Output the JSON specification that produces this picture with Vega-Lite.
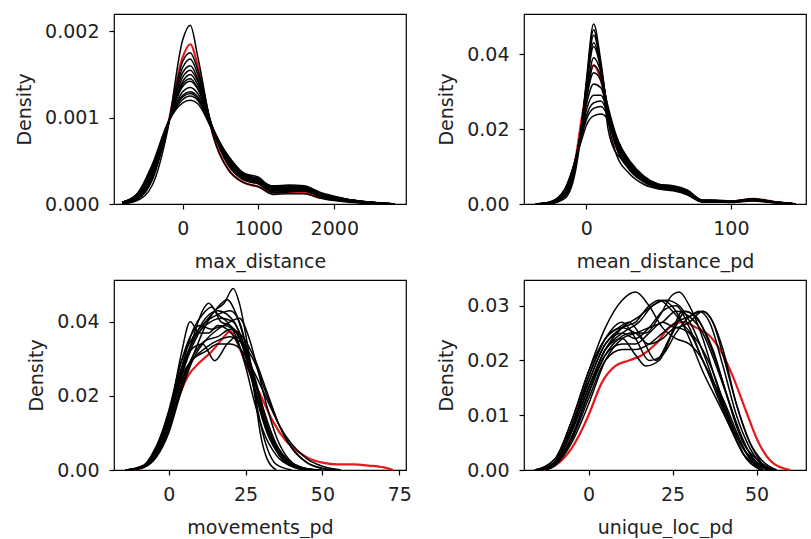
{
"$schema": "https://vega.github.io/schema/vega-lite/v6.json",
"padding": {"left": 15, "top": 13, "right": 0, "bottom": 0},
"background": "white",
"config": {
 "font": "DejaVu Sans",
 "view": {"stroke": "black", "strokeWidth": 1.2},
 "axis": {"domain": false, "grid": false, "tickColor": "black", "tickSize": 5, "tickWidth": 1.2, "labelFontSize": 19, "titleFontSize": 19, "labelColor": "#222", "titleColor": "#222", "titleFontWeight": "normal", "labelPadding": 10, "titlePadding": 10},
 "axisX": {"titlePadding": 14},
 "line": {"interpolate": "monotone", "strokeWidth": 1.5}
},
"datasets": {
"p1": [
{"c":"b1","x":-800,"y":0},{"c":"b1","x":-600,"y":0.00004},{"c":"b1","x":-400,"y":0.00022},{"c":"b1","x":-200,"y":0.00085},{"c":"b1","x":0,"y":0.0019},{"c":"b1","x":100,"y":0.00207},{"c":"b1","x":200,"y":0.0017},{"c":"b1","x":400,"y":0.0008},{"c":"b1","x":600,"y":0.0004},{"c":"b1","x":800,"y":0.00025},{"c":"b1","x":1000,"y":0.0002},{"c":"b1","x":1200,"y":0.00011},{"c":"b1","x":1400,"y":0.00012},{"c":"b1","x":1600,"y":0.00012},{"c":"b1","x":1800,"y":0.00007},{"c":"b1","x":2000,"y":0.00004},{"c":"b1","x":2200,"y":0.00002},{"c":"b1","x":2500,"y":0.00001},{"c":"b1","x":2800,"y":0},
{"c":"b2","x":-800,"y":0},{"c":"b2","x":-600,"y":0.00005},{"c":"b2","x":-400,"y":0.00028},{"c":"b2","x":-200,"y":0.00088},{"c":"b2","x":0,"y":0.00165},{"c":"b2","x":100,"y":0.00175},{"c":"b2","x":200,"y":0.00155},{"c":"b2","x":400,"y":0.00085},{"c":"b2","x":600,"y":0.00045},{"c":"b2","x":800,"y":0.00028},{"c":"b2","x":1000,"y":0.00023},{"c":"b2","x":1200,"y":0.00013},{"c":"b2","x":1400,"y":0.00014},{"c":"b2","x":1600,"y":0.00015},{"c":"b2","x":1800,"y":0.00009},{"c":"b2","x":2000,"y":0.00005},{"c":"b2","x":2200,"y":0.00003},{"c":"b2","x":2500,"y":0.00001},{"c":"b2","x":2800,"y":0},
{"c":"b3","x":-800,"y":0},{"c":"b3","x":-600,"y":0.00007},{"c":"b3","x":-400,"y":0.00032},{"c":"b3","x":-200,"y":0.0009},{"c":"b3","x":0,"y":0.00152},{"c":"b3","x":100,"y":0.0016},{"c":"b3","x":200,"y":0.00145},{"c":"b3","x":400,"y":0.00087},{"c":"b3","x":600,"y":0.00047},{"c":"b3","x":800,"y":0.0003},{"c":"b3","x":1000,"y":0.00025},{"c":"b3","x":1200,"y":0.00015},{"c":"b3","x":1400,"y":0.00016},{"c":"b3","x":1600,"y":0.00016},{"c":"b3","x":1800,"y":0.0001},{"c":"b3","x":2000,"y":0.00006},{"c":"b3","x":2200,"y":0.00003},{"c":"b3","x":2500,"y":0.00001},{"c":"b3","x":2800,"y":0},
{"c":"b4","x":-800,"y":0.00001},{"c":"b4","x":-600,"y":0.00008},{"c":"b4","x":-400,"y":0.00034},{"c":"b4","x":-200,"y":0.0009},{"c":"b4","x":0,"y":0.00147},{"c":"b4","x":100,"y":0.00155},{"c":"b4","x":200,"y":0.00142},{"c":"b4","x":400,"y":0.00086},{"c":"b4","x":600,"y":0.00048},{"c":"b4","x":800,"y":0.00031},{"c":"b4","x":1000,"y":0.00026},{"c":"b4","x":1200,"y":0.00016},{"c":"b4","x":1400,"y":0.00017},{"c":"b4","x":1600,"y":0.00018},{"c":"b4","x":1800,"y":0.00011},{"c":"b4","x":2000,"y":0.00006},{"c":"b4","x":2200,"y":0.00004},{"c":"b4","x":2500,"y":0.00001},{"c":"b4","x":2800,"y":0},
{"c":"b5","x":-800,"y":0.00001},{"c":"b5","x":-600,"y":0.00008},{"c":"b5","x":-400,"y":0.00035},{"c":"b5","x":-200,"y":0.0009},{"c":"b5","x":0,"y":0.00142},{"c":"b5","x":100,"y":0.0015},{"c":"b5","x":200,"y":0.00138},{"c":"b5","x":400,"y":0.00086},{"c":"b5","x":600,"y":0.00049},{"c":"b5","x":800,"y":0.00031},{"c":"b5","x":1000,"y":0.00027},{"c":"b5","x":1200,"y":0.00016},{"c":"b5","x":1400,"y":0.00018},{"c":"b5","x":1600,"y":0.00018},{"c":"b5","x":1800,"y":0.00011},{"c":"b5","x":2000,"y":0.00007},{"c":"b5","x":2200,"y":0.00004},{"c":"b5","x":2500,"y":0.00001},{"c":"b5","x":2800,"y":0},
{"c":"b6","x":-800,"y":0.00001},{"c":"b6","x":-600,"y":0.0001},{"c":"b6","x":-400,"y":0.00038},{"c":"b6","x":-200,"y":0.00092},{"c":"b6","x":0,"y":0.00136},{"c":"b6","x":100,"y":0.00142},{"c":"b6","x":200,"y":0.00133},{"c":"b6","x":400,"y":0.00086},{"c":"b6","x":600,"y":0.0005},{"c":"b6","x":800,"y":0.00032},{"c":"b6","x":1000,"y":0.00027},{"c":"b6","x":1200,"y":0.00018},{"c":"b6","x":1400,"y":0.00018},{"c":"b6","x":1600,"y":0.00017},{"c":"b6","x":1800,"y":0.00011},{"c":"b6","x":2000,"y":0.00007},{"c":"b6","x":2200,"y":0.00004},{"c":"b6","x":2500,"y":0.00001},{"c":"b6","x":2800,"y":0},
{"c":"b7","x":-800,"y":0.00001},{"c":"b7","x":-600,"y":0.0001},{"c":"b7","x":-400,"y":0.0004},{"c":"b7","x":-200,"y":0.00092},{"c":"b7","x":0,"y":0.0013},{"c":"b7","x":100,"y":0.00135},{"c":"b7","x":200,"y":0.00128},{"c":"b7","x":400,"y":0.00085},{"c":"b7","x":600,"y":0.00052},{"c":"b7","x":800,"y":0.00033},{"c":"b7","x":1000,"y":0.00028},{"c":"b7","x":1200,"y":0.00018},{"c":"b7","x":1400,"y":0.00019},{"c":"b7","x":1600,"y":0.00019},{"c":"b7","x":1800,"y":0.00012},{"c":"b7","x":2000,"y":0.00007},{"c":"b7","x":2200,"y":0.00004},{"c":"b7","x":2500,"y":0.00002},{"c":"b7","x":2800,"y":0},
{"c":"b8","x":-800,"y":0.00002},{"c":"b8","x":-600,"y":0.00011},{"c":"b8","x":-400,"y":0.00042},{"c":"b8","x":-200,"y":0.00092},{"c":"b8","x":0,"y":0.00126},{"c":"b8","x":100,"y":0.0013},{"c":"b8","x":200,"y":0.00124},{"c":"b8","x":400,"y":0.00085},{"c":"b8","x":600,"y":0.00053},{"c":"b8","x":800,"y":0.00034},{"c":"b8","x":1000,"y":0.00028},{"c":"b8","x":1200,"y":0.00019},{"c":"b8","x":1400,"y":0.00019},{"c":"b8","x":1600,"y":0.00018},{"c":"b8","x":1800,"y":0.00012},{"c":"b8","x":2000,"y":0.00008},{"c":"b8","x":2200,"y":0.00005},{"c":"b8","x":2500,"y":0.00002},{"c":"b8","x":2800,"y":0},
{"c":"b9","x":-800,"y":0.00002},{"c":"b9","x":-600,"y":0.00012},{"c":"b9","x":-400,"y":0.00044},{"c":"b9","x":-200,"y":0.00092},{"c":"b9","x":0,"y":0.00121},{"c":"b9","x":100,"y":0.00125},{"c":"b9","x":200,"y":0.0012},{"c":"b9","x":400,"y":0.00085},{"c":"b9","x":600,"y":0.00055},{"c":"b9","x":800,"y":0.00035},{"c":"b9","x":1000,"y":0.00029},{"c":"b9","x":1200,"y":0.0002},{"c":"b9","x":1400,"y":0.0002},{"c":"b9","x":1600,"y":0.00019},{"c":"b9","x":1800,"y":0.00012},{"c":"b9","x":2000,"y":0.00008},{"c":"b9","x":2200,"y":0.00005},{"c":"b9","x":2500,"y":0.00002},{"c":"b9","x":2800,"y":0},
{"c":"b10","x":-800,"y":0.00002},{"c":"b10","x":-600,"y":0.00012},{"c":"b10","x":-400,"y":0.00046},{"c":"b10","x":-200,"y":0.00093},{"c":"b10","x":0,"y":0.00117},{"c":"b10","x":100,"y":0.0012},{"c":"b10","x":200,"y":0.00116},{"c":"b10","x":400,"y":0.00084},{"c":"b10","x":600,"y":0.00056},{"c":"b10","x":800,"y":0.00036},{"c":"b10","x":1000,"y":0.00029},{"c":"b10","x":1200,"y":0.0002},{"c":"b10","x":1400,"y":0.00021},{"c":"b10","x":1600,"y":0.0002},{"c":"b10","x":1800,"y":0.00013},{"c":"b10","x":2000,"y":0.00008},{"c":"b10","x":2200,"y":0.00005},{"c":"b10","x":2500,"y":0.00002},{"c":"b10","x":2800,"y":0},
{"c":"b11","x":-800,"y":0},{"c":"b11","x":-600,"y":0.00006},{"c":"b11","x":-400,"y":0.0003},{"c":"b11","x":-200,"y":0.00089},{"c":"b11","x":0,"y":0.00158},{"c":"b11","x":100,"y":0.00168},{"c":"b11","x":200,"y":0.0015},{"c":"b11","x":400,"y":0.00086},{"c":"b11","x":600,"y":0.00046},{"c":"b11","x":800,"y":0.00029},{"c":"b11","x":1000,"y":0.00024},{"c":"b11","x":1200,"y":0.00014},{"c":"b11","x":1400,"y":0.00015},{"c":"b11","x":1600,"y":0.00016},{"c":"b11","x":1800,"y":0.0001},{"c":"b11","x":2000,"y":0.00005},{"c":"b11","x":2200,"y":0.00003},{"c":"b11","x":2500,"y":0.00001},{"c":"b11","x":2800,"y":0},
{"c":"b12","x":-800,"y":0.00001},{"c":"b12","x":-600,"y":0.00009},{"c":"b12","x":-400,"y":0.00036},{"c":"b12","x":-200,"y":0.00091},{"c":"b12","x":0,"y":0.00139},{"c":"b12","x":100,"y":0.00145},{"c":"b12","x":200,"y":0.00134},{"c":"b12","x":400,"y":0.00088},{"c":"b12","x":600,"y":0.00053},{"c":"b12","x":800,"y":0.00036},{"c":"b12","x":1000,"y":0.00031},{"c":"b12","x":1200,"y":0.00017},{"c":"b12","x":1400,"y":0.00016},{"c":"b12","x":1600,"y":0.00015},{"c":"b12","x":1800,"y":0.0001},{"c":"b12","x":2000,"y":0.00006},{"c":"b12","x":2200,"y":0.00003},{"c":"b12","x":2500,"y":0.00001},{"c":"b12","x":2800,"y":0},
{"c":"b13","x":-800,"y":0.00002},{"c":"b13","x":-600,"y":0.0001},{"c":"b13","x":-400,"y":0.00041},{"c":"b13","x":-200,"y":0.00093},{"c":"b13","x":0,"y":0.00124},{"c":"b13","x":100,"y":0.00128},{"c":"b13","x":200,"y":0.00122},{"c":"b13","x":400,"y":0.00087},{"c":"b13","x":600,"y":0.00054},{"c":"b13","x":800,"y":0.00033},{"c":"b13","x":1000,"y":0.00026},{"c":"b13","x":1200,"y":0.00021},{"c":"b13","x":1400,"y":0.00022},{"c":"b13","x":1600,"y":0.00021},{"c":"b13","x":1800,"y":0.00014},{"c":"b13","x":2000,"y":0.00009},{"c":"b13","x":2200,"y":0.00005},{"c":"b13","x":2500,"y":0.00002},{"c":"b13","x":2800,"y":0},
{"c":"red","x":-800,"y":0},{"c":"red","x":-600,"y":0.00006},{"c":"red","x":-400,"y":0.0003},{"c":"red","x":-200,"y":0.0009},{"c":"red","x":0,"y":0.0017},{"c":"red","x":100,"y":0.00185},{"c":"red","x":200,"y":0.0016},{"c":"red","x":400,"y":0.0008},{"c":"red","x":600,"y":0.0004},{"c":"red","x":800,"y":0.00025},{"c":"red","x":1000,"y":0.0002},{"c":"red","x":1200,"y":0.00013},{"c":"red","x":1400,"y":0.00014},{"c":"red","x":1600,"y":0.00013},{"c":"red","x":1800,"y":0.00008},{"c":"red","x":2000,"y":0.00005},{"c":"red","x":2200,"y":0.00003},{"c":"red","x":2500,"y":0.00001},{"c":"red","x":2800,"y":0}
],
"p2": [
{"c":"e1","x":-35,"y":0},{"c":"e1","x":-25,"y":0.0002},{"c":"e1","x":-15,"y":0.002},{"c":"e1","x":-8,"y":0.009},{"c":"e1","x":-3,"y":0.022},{"c":"e1","x":0,"y":0.033},{"c":"e1","x":5,"y":0.048},{"c":"e1","x":10,"y":0.038},{"c":"e1","x":15,"y":0.024},{"c":"e1","x":20,"y":0.016},{"c":"e1","x":30,"y":0.009},{"c":"e1","x":40,"y":0.0058},{"c":"e1","x":50,"y":0.0042},{"c":"e1","x":60,"y":0.0037},{"c":"e1","x":70,"y":0.0026},{"c":"e1","x":80,"y":0.0006},{"c":"e1","x":90,"y":0.0006},{"c":"e1","x":100,"y":0.0005},{"c":"e1","x":115,"y":0.0009},{"c":"e1","x":130,"y":0.0004},{"c":"e1","x":145,"y":0},
{"c":"e2","x":-35,"y":0},{"c":"e2","x":-25,"y":0.0002},{"c":"e2","x":-15,"y":0.0022},{"c":"e2","x":-8,"y":0.0095},{"c":"e2","x":-3,"y":0.022},{"c":"e2","x":0,"y":0.032},{"c":"e2","x":5,"y":0.045},{"c":"e2","x":10,"y":0.037},{"c":"e2","x":15,"y":0.024},{"c":"e2","x":20,"y":0.016},{"c":"e2","x":30,"y":0.0092},{"c":"e2","x":40,"y":0.006},{"c":"e2","x":50,"y":0.0044},{"c":"e2","x":60,"y":0.0038},{"c":"e2","x":70,"y":0.0028},{"c":"e2","x":80,"y":0.0007},{"c":"e2","x":90,"y":0.0007},{"c":"e2","x":100,"y":0.0005},{"c":"e2","x":115,"y":0.001},{"c":"e2","x":130,"y":0.0004},{"c":"e2","x":145,"y":0},
{"c":"e3","x":-35,"y":0},{"c":"e3","x":-25,"y":0.0003},{"c":"e3","x":-15,"y":0.0025},{"c":"e3","x":-8,"y":0.01},{"c":"e3","x":-3,"y":0.022},{"c":"e3","x":0,"y":0.031},{"c":"e3","x":5,"y":0.042},{"c":"e3","x":10,"y":0.036},{"c":"e3","x":15,"y":0.025},{"c":"e3","x":20,"y":0.017},{"c":"e3","x":30,"y":0.0095},{"c":"e3","x":40,"y":0.0062},{"c":"e3","x":50,"y":0.0045},{"c":"e3","x":60,"y":0.004},{"c":"e3","x":70,"y":0.003},{"c":"e3","x":80,"y":0.0008},{"c":"e3","x":90,"y":0.0007},{"c":"e3","x":100,"y":0.0006},{"c":"e3","x":115,"y":0.0011},{"c":"e3","x":130,"y":0.0005},{"c":"e3","x":145,"y":0},
{"c":"e4","x":-35,"y":0},{"c":"e4","x":-25,"y":0.0003},{"c":"e4","x":-15,"y":0.0028},{"c":"e4","x":-8,"y":0.0105},{"c":"e4","x":-3,"y":0.0215},{"c":"e4","x":0,"y":0.029},{"c":"e4","x":5,"y":0.039},{"c":"e4","x":10,"y":0.035},{"c":"e4","x":15,"y":0.025},{"c":"e4","x":20,"y":0.0175},{"c":"e4","x":30,"y":0.0098},{"c":"e4","x":40,"y":0.0064},{"c":"e4","x":50,"y":0.0046},{"c":"e4","x":60,"y":0.0041},{"c":"e4","x":70,"y":0.0031},{"c":"e4","x":80,"y":0.0008},{"c":"e4","x":90,"y":0.0008},{"c":"e4","x":100,"y":0.0006},{"c":"e4","x":115,"y":0.0011},{"c":"e4","x":130,"y":0.0005},{"c":"e4","x":145,"y":0},
{"c":"e5","x":-35,"y":0},{"c":"e5","x":-25,"y":0.0004},{"c":"e5","x":-15,"y":0.003},{"c":"e5","x":-8,"y":0.011},{"c":"e5","x":-3,"y":0.021},{"c":"e5","x":0,"y":0.028},{"c":"e5","x":5,"y":0.035},{"c":"e5","x":10,"y":0.033},{"c":"e5","x":15,"y":0.025},{"c":"e5","x":20,"y":0.018},{"c":"e5","x":30,"y":0.01},{"c":"e5","x":40,"y":0.0066},{"c":"e5","x":50,"y":0.0048},{"c":"e5","x":60,"y":0.0043},{"c":"e5","x":70,"y":0.0032},{"c":"e5","x":80,"y":0.0009},{"c":"e5","x":90,"y":0.0008},{"c":"e5","x":100,"y":0.0006},{"c":"e5","x":115,"y":0.0012},{"c":"e5","x":130,"y":0.0005},{"c":"e5","x":145,"y":0},
{"c":"e6","x":-35,"y":0},{"c":"e6","x":-25,"y":0.0004},{"c":"e6","x":-15,"y":0.0033},{"c":"e6","x":-8,"y":0.0112},{"c":"e6","x":-3,"y":0.0205},{"c":"e6","x":0,"y":0.0265},{"c":"e6","x":5,"y":0.032},{"c":"e6","x":10,"y":0.031},{"c":"e6","x":15,"y":0.025},{"c":"e6","x":20,"y":0.0185},{"c":"e6","x":30,"y":0.0105},{"c":"e6","x":40,"y":0.0068},{"c":"e6","x":50,"y":0.005},{"c":"e6","x":60,"y":0.0044},{"c":"e6","x":70,"y":0.0033},{"c":"e6","x":80,"y":0.0009},{"c":"e6","x":90,"y":0.0009},{"c":"e6","x":100,"y":0.0007},{"c":"e6","x":115,"y":0.0012},{"c":"e6","x":130,"y":0.0005},{"c":"e6","x":145,"y":0},
{"c":"e7","x":-35,"y":0},{"c":"e7","x":-25,"y":0.0005},{"c":"e7","x":-15,"y":0.0035},{"c":"e7","x":-8,"y":0.0114},{"c":"e7","x":-3,"y":0.0195},{"c":"e7","x":0,"y":0.025},{"c":"e7","x":5,"y":0.029},{"c":"e7","x":10,"y":0.029},{"c":"e7","x":15,"y":0.0245},{"c":"e7","x":20,"y":0.0185},{"c":"e7","x":30,"y":0.011},{"c":"e7","x":40,"y":0.007},{"c":"e7","x":50,"y":0.0051},{"c":"e7","x":60,"y":0.0045},{"c":"e7","x":70,"y":0.0034},{"c":"e7","x":80,"y":0.001},{"c":"e7","x":90,"y":0.0009},{"c":"e7","x":100,"y":0.0007},{"c":"e7","x":115,"y":0.0013},{"c":"e7","x":130,"y":0.0006},{"c":"e7","x":145,"y":0},
{"c":"e8","x":-35,"y":0},{"c":"e8","x":-25,"y":0.0005},{"c":"e8","x":-15,"y":0.0038},{"c":"e8","x":-8,"y":0.0113},{"c":"e8","x":-3,"y":0.0185},{"c":"e8","x":0,"y":0.0225},{"c":"e8","x":5,"y":0.0255},{"c":"e8","x":10,"y":0.026},{"c":"e8","x":15,"y":0.0235},{"c":"e8","x":20,"y":0.0185},{"c":"e8","x":30,"y":0.0112},{"c":"e8","x":40,"y":0.0072},{"c":"e8","x":50,"y":0.0052},{"c":"e8","x":60,"y":0.0046},{"c":"e8","x":70,"y":0.0035},{"c":"e8","x":80,"y":0.001},{"c":"e8","x":90,"y":0.001},{"c":"e8","x":100,"y":0.0007},{"c":"e8","x":115,"y":0.0013},{"c":"e8","x":130,"y":0.0006},{"c":"e8","x":145,"y":0},
{"c":"e9","x":-35,"y":0},{"c":"e9","x":-25,"y":0.0006},{"c":"e9","x":-15,"y":0.004},{"c":"e9","x":-8,"y":0.011},{"c":"e9","x":-3,"y":0.0175},{"c":"e9","x":0,"y":0.021},{"c":"e9","x":5,"y":0.0235},{"c":"e9","x":10,"y":0.024},{"c":"e9","x":15,"y":0.0225},{"c":"e9","x":20,"y":0.018},{"c":"e9","x":30,"y":0.0115},{"c":"e9","x":40,"y":0.0074},{"c":"e9","x":50,"y":0.0053},{"c":"e9","x":60,"y":0.0047},{"c":"e9","x":70,"y":0.0036},{"c":"e9","x":80,"y":0.0011},{"c":"e9","x":90,"y":0.001},{"c":"e9","x":100,"y":0.0008},{"c":"e9","x":115,"y":0.0014},{"c":"e9","x":130,"y":0.0006},{"c":"e9","x":145,"y":0},
{"c":"e10","x":-35,"y":0},{"c":"e10","x":-25,"y":0.0001},{"c":"e10","x":-15,"y":0.0015},{"c":"e10","x":-8,"y":0.008},{"c":"e10","x":-3,"y":0.021},{"c":"e10","x":0,"y":0.032},{"c":"e10","x":5,"y":0.0465},{"c":"e10","x":10,"y":0.036},{"c":"e10","x":15,"y":0.022},{"c":"e10","x":20,"y":0.014},{"c":"e10","x":30,"y":0.008},{"c":"e10","x":40,"y":0.0052},{"c":"e10","x":50,"y":0.004},{"c":"e10","x":60,"y":0.0035},{"c":"e10","x":70,"y":0.0024},{"c":"e10","x":80,"y":0.0005},{"c":"e10","x":90,"y":0.0005},{"c":"e10","x":100,"y":0.0004},{"c":"e10","x":115,"y":0.0008},{"c":"e10","x":130,"y":0.0003},{"c":"e10","x":145,"y":0},
{"c":"e11","x":-35,"y":0},{"c":"e11","x":-25,"y":0.0002},{"c":"e11","x":-15,"y":0.0024},{"c":"e11","x":-8,"y":0.0098},{"c":"e11","x":-3,"y":0.022},{"c":"e11","x":0,"y":0.031},{"c":"e11","x":5,"y":0.043},{"c":"e11","x":10,"y":0.036},{"c":"e11","x":15,"y":0.02},{"c":"e11","x":20,"y":0.014},{"c":"e11","x":30,"y":0.0105},{"c":"e11","x":40,"y":0.0068},{"c":"e11","x":50,"y":0.0047},{"c":"e11","x":60,"y":0.0042},{"c":"e11","x":70,"y":0.003},{"c":"e11","x":80,"y":0.0007},{"c":"e11","x":90,"y":0.0007},{"c":"e11","x":100,"y":0.0005},{"c":"e11","x":115,"y":0.001},{"c":"e11","x":130,"y":0.0004},{"c":"e11","x":145,"y":0},
{"c":"e12","x":-35,"y":0},{"c":"e12","x":-25,"y":0.0004},{"c":"e12","x":-15,"y":0.0029},{"c":"e12","x":-8,"y":0.0107},{"c":"e12","x":-3,"y":0.021},{"c":"e12","x":0,"y":0.028},{"c":"e12","x":5,"y":0.037},{"c":"e12","x":10,"y":0.034},{"c":"e12","x":15,"y":0.026},{"c":"e12","x":20,"y":0.019},{"c":"e12","x":30,"y":0.0108},{"c":"e12","x":40,"y":0.0068},{"c":"e12","x":50,"y":0.0052},{"c":"e12","x":60,"y":0.0049},{"c":"e12","x":70,"y":0.0037},{"c":"e12","x":80,"y":0.0009},{"c":"e12","x":90,"y":0.0008},{"c":"e12","x":100,"y":0.0006},{"c":"e12","x":115,"y":0.0011},{"c":"e12","x":130,"y":0.0005},{"c":"e12","x":145,"y":0},
{"c":"e13","x":-35,"y":0},{"c":"e13","x":-25,"y":0.0005},{"c":"e13","x":-15,"y":0.0036},{"c":"e13","x":-8,"y":0.0113},{"c":"e13","x":-3,"y":0.019},{"c":"e13","x":0,"y":0.0235},{"c":"e13","x":5,"y":0.027},{"c":"e13","x":10,"y":0.0275},{"c":"e13","x":15,"y":0.024},{"c":"e13","x":20,"y":0.0183},{"c":"e13","x":30,"y":0.0108},{"c":"e13","x":40,"y":0.007},{"c":"e13","x":50,"y":0.005},{"c":"e13","x":60,"y":0.0044},{"c":"e13","x":70,"y":0.0033},{"c":"e13","x":80,"y":0.0009},{"c":"e13","x":90,"y":0.0009},{"c":"e13","x":100,"y":0.0007},{"c":"e13","x":115,"y":0.0012},{"c":"e13","x":130,"y":0.0005},{"c":"e13","x":145,"y":0},
{"c":"red","x":-35,"y":0},{"c":"red","x":-25,"y":0.0003},{"c":"red","x":-15,"y":0.0028},{"c":"red","x":-8,"y":0.011},{"c":"red","x":-3,"y":0.0235},{"c":"red","x":0,"y":0.03},{"c":"red","x":5,"y":0.037},{"c":"red","x":10,"y":0.033},{"c":"red","x":15,"y":0.023},{"c":"red","x":20,"y":0.016},{"c":"red","x":30,"y":0.0095},{"c":"red","x":40,"y":0.0065},{"c":"red","x":50,"y":0.0046},{"c":"red","x":60,"y":0.004},{"c":"red","x":70,"y":0.003},{"c":"red","x":80,"y":0.0008},{"c":"red","x":90,"y":0.0008},{"c":"red","x":100,"y":0.0007},{"c":"red","x":115,"y":0.0014},{"c":"red","x":130,"y":0.0006},{"c":"red","x":145,"y":0}
],
"p3": [
{"c":"c1","x":-14,"y":0},{"c":"c1","x":-8,"y":0.001},{"c":"c1","x":-4,"y":0.005},{"c":"c1","x":0,"y":0.014},{"c":"c1","x":4,"y":0.031},{"c":"c1","x":7,"y":0.04},{"c":"c1","x":10,"y":0.037},{"c":"c1","x":13,"y":0.037},{"c":"c1","x":16,"y":0.039},{"c":"c1","x":19,"y":0.038},{"c":"c1","x":22,"y":0.035},{"c":"c1","x":26,"y":0.027},{"c":"c1","x":30,"y":0.016},{"c":"c1","x":34,"y":0.008},{"c":"c1","x":38,"y":0.003},{"c":"c1","x":44,"y":0.0005},{"c":"c1","x":50,"y":0},
{"c":"c2","x":-14,"y":0},{"c":"c2","x":-8,"y":0.0008},{"c":"c2","x":-4,"y":0.004},{"c":"c2","x":0,"y":0.011},{"c":"c2","x":4,"y":0.022},{"c":"c2","x":8,"y":0.031},{"c":"c2","x":12,"y":0.039},{"c":"c2","x":15,"y":0.043},{"c":"c2","x":18,"y":0.045},{"c":"c2","x":21,"y":0.049},{"c":"c2","x":23,"y":0.045},{"c":"c2","x":26,"y":0.032},{"c":"c2","x":29,"y":0.016},{"c":"c2","x":32,"y":0.006},{"c":"c2","x":35,"y":0.0015},{"c":"c2","x":40,"y":0},
{"c":"c3","x":-13,"y":0},{"c":"c3","x":-8,"y":0.001},{"c":"c3","x":-4,"y":0.005},{"c":"c3","x":0,"y":0.013},{"c":"c3","x":4,"y":0.025},{"c":"c3","x":8,"y":0.036},{"c":"c3","x":11,"y":0.043},{"c":"c3","x":13,"y":0.045},{"c":"c3","x":16,"y":0.042},{"c":"c3","x":19,"y":0.04},{"c":"c3","x":22,"y":0.036},{"c":"c3","x":25,"y":0.028},{"c":"c3","x":28,"y":0.018},{"c":"c3","x":31,"y":0.01},{"c":"c3","x":35,"y":0.004},{"c":"c3","x":40,"y":0.001},{"c":"c3","x":46,"y":0},
{"c":"c4","x":-13,"y":0},{"c":"c4","x":-8,"y":0.0012},{"c":"c4","x":-4,"y":0.006},{"c":"c4","x":0,"y":0.015},{"c":"c4","x":4,"y":0.027},{"c":"c4","x":8,"y":0.033},{"c":"c4","x":11,"y":0.034},{"c":"c4","x":15,"y":0.0295},{"c":"c4","x":19,"y":0.034},{"c":"c4","x":22,"y":0.036},{"c":"c4","x":25,"y":0.033},{"c":"c4","x":28,"y":0.025},{"c":"c4","x":31,"y":0.016},{"c":"c4","x":35,"y":0.007},{"c":"c4","x":40,"y":0.002},{"c":"c4","x":47,"y":0},
{"c":"c5","x":-13,"y":0},{"c":"c5","x":-8,"y":0.001},{"c":"c5","x":-4,"y":0.005},{"c":"c5","x":0,"y":0.013},{"c":"c5","x":4,"y":0.025},{"c":"c5","x":8,"y":0.034},{"c":"c5","x":12,"y":0.04},{"c":"c5","x":15,"y":0.043},{"c":"c5","x":19,"y":0.046},{"c":"c5","x":22,"y":0.042},{"c":"c5","x":25,"y":0.034},{"c":"c5","x":28,"y":0.024},{"c":"c5","x":31,"y":0.014},{"c":"c5","x":34,"y":0.007},{"c":"c5","x":38,"y":0.002},{"c":"c5","x":44,"y":0},
{"c":"c6","x":-14,"y":0},{"c":"c6","x":-8,"y":0.0012},{"c":"c6","x":-4,"y":0.006},{"c":"c6","x":0,"y":0.014},{"c":"c6","x":4,"y":0.024},{"c":"c6","x":8,"y":0.03},{"c":"c6","x":12,"y":0.033},{"c":"c6","x":16,"y":0.035},{"c":"c6","x":20,"y":0.036},{"c":"c6","x":24,"y":0.034},{"c":"c6","x":28,"y":0.029},{"c":"c6","x":32,"y":0.02},{"c":"c6","x":36,"y":0.012},{"c":"c6","x":40,"y":0.006},{"c":"c6","x":45,"y":0.002},{"c":"c6","x":50,"y":0.0005},{"c":"c6","x":55,"y":0},
{"c":"c7","x":-13,"y":0},{"c":"c7","x":-8,"y":0.001},{"c":"c7","x":-4,"y":0.0055},{"c":"c7","x":0,"y":0.014},{"c":"c7","x":4,"y":0.027},{"c":"c7","x":8,"y":0.035},{"c":"c7","x":12,"y":0.039},{"c":"c7","x":17,"y":0.041},{"c":"c7","x":21,"y":0.04},{"c":"c7","x":24,"y":0.035},{"c":"c7","x":27,"y":0.027},{"c":"c7","x":30,"y":0.018},{"c":"c7","x":33,"y":0.01},{"c":"c7","x":37,"y":0.004},{"c":"c7","x":42,"y":0.001},{"c":"c7","x":48,"y":0},
{"c":"c8","x":-12,"y":0},{"c":"c8","x":-8,"y":0.001},{"c":"c8","x":-4,"y":0.006},{"c":"c8","x":0,"y":0.016},{"c":"c8","x":4,"y":0.029},{"c":"c8","x":8,"y":0.036},{"c":"c8","x":12,"y":0.04},{"c":"c8","x":16,"y":0.042},{"c":"c8","x":20,"y":0.043},{"c":"c8","x":23,"y":0.04},{"c":"c8","x":26,"y":0.03},{"c":"c8","x":28,"y":0.02},{"c":"c8","x":30,"y":0.009},{"c":"c8","x":32,"y":0.003},{"c":"c8","x":35,"y":0},
{"c":"c9","x":-14,"y":0},{"c":"c9","x":-8,"y":0.0009},{"c":"c9","x":-4,"y":0.0045},{"c":"c9","x":0,"y":0.012},{"c":"c9","x":4,"y":0.023},{"c":"c9","x":8,"y":0.031},{"c":"c9","x":12,"y":0.035},{"c":"c9","x":16,"y":0.036},{"c":"c9","x":20,"y":0.038},{"c":"c9","x":24,"y":0.036},{"c":"c9","x":28,"y":0.03},{"c":"c9","x":32,"y":0.021},{"c":"c9","x":36,"y":0.012},{"c":"c9","x":40,"y":0.006},{"c":"c9","x":45,"y":0.002},{"c":"c9","x":52,"y":0},
{"c":"c10","x":-13,"y":0},{"c":"c10","x":-8,"y":0.0011},{"c":"c10","x":-4,"y":0.0055},{"c":"c10","x":0,"y":0.014},{"c":"c10","x":4,"y":0.026},{"c":"c10","x":8,"y":0.035},{"c":"c10","x":12,"y":0.041},{"c":"c10","x":16,"y":0.043},{"c":"c10","x":19,"y":0.042},{"c":"c10","x":22,"y":0.039},{"c":"c10","x":25,"y":0.032},{"c":"c10","x":28,"y":0.022},{"c":"c10","x":31,"y":0.013},{"c":"c10","x":35,"y":0.006},{"c":"c10","x":40,"y":0.0015},{"c":"c10","x":46,"y":0},
{"c":"c11","x":-13,"y":0},{"c":"c11","x":-8,"y":0.001},{"c":"c11","x":-4,"y":0.005},{"c":"c11","x":0,"y":0.013},{"c":"c11","x":4,"y":0.027},{"c":"c11","x":8,"y":0.038},{"c":"c11","x":11,"y":0.042},{"c":"c11","x":14,"y":0.044},{"c":"c11","x":17,"y":0.04},{"c":"c11","x":20,"y":0.039},{"c":"c11","x":23,"y":0.036},{"c":"c11","x":26,"y":0.028},{"c":"c11","x":29,"y":0.018},{"c":"c11","x":32,"y":0.01},{"c":"c11","x":36,"y":0.004},{"c":"c11","x":41,"y":0.001},{"c":"c11","x":47,"y":0},
{"c":"c12","x":-13,"y":0},{"c":"c12","x":-8,"y":0.001},{"c":"c12","x":-4,"y":0.0055},{"c":"c12","x":0,"y":0.015},{"c":"c12","x":4,"y":0.029},{"c":"c12","x":7,"y":0.036},{"c":"c12","x":10,"y":0.039},{"c":"c12","x":14,"y":0.038},{"c":"c12","x":18,"y":0.039},{"c":"c12","x":22,"y":0.037},{"c":"c12","x":25,"y":0.031},{"c":"c12","x":28,"y":0.022},{"c":"c12","x":31,"y":0.013},{"c":"c12","x":35,"y":0.006},{"c":"c12","x":40,"y":0.0015},{"c":"c12","x":46,"y":0},
{"c":"c13","x":-12,"y":0},{"c":"c13","x":-8,"y":0.0007},{"c":"c13","x":-4,"y":0.0035},{"c":"c13","x":0,"y":0.01},{"c":"c13","x":4,"y":0.021},{"c":"c13","x":8,"y":0.03},{"c":"c13","x":12,"y":0.035},{"c":"c13","x":16,"y":0.038},{"c":"c13","x":20,"y":0.04},{"c":"c13","x":23,"y":0.041},{"c":"c13","x":26,"y":0.036},{"c":"c13","x":29,"y":0.027},{"c":"c13","x":32,"y":0.017},{"c":"c13","x":35,"y":0.009},{"c":"c13","x":39,"y":0.003},{"c":"c13","x":45,"y":0},
{"c":"c14","x":-14,"y":0},{"c":"c14","x":-8,"y":0.0014},{"c":"c14","x":-4,"y":0.0065},{"c":"c14","x":0,"y":0.015},{"c":"c14","x":4,"y":0.025},{"c":"c14","x":8,"y":0.03},{"c":"c14","x":12,"y":0.032},{"c":"c14","x":16,"y":0.034},{"c":"c14","x":20,"y":0.034},{"c":"c14","x":24,"y":0.032},{"c":"c14","x":28,"y":0.026},{"c":"c14","x":32,"y":0.019},{"c":"c14","x":36,"y":0.012},{"c":"c14","x":40,"y":0.007},{"c":"c14","x":45,"y":0.003},{"c":"c14","x":50,"y":0.001},{"c":"c14","x":56,"y":0},
{"c":"red","x":-12,"y":0},{"c":"red","x":-8,"y":0.0008},{"c":"red","x":-4,"y":0.004},{"c":"red","x":0,"y":0.011},{"c":"red","x":3,"y":0.019},{"c":"red","x":6,"y":0.025},{"c":"red","x":10,"y":0.029},{"c":"red","x":14,"y":0.032},{"c":"red","x":18,"y":0.036},{"c":"red","x":20,"y":0.0375},{"c":"red","x":23,"y":0.033},{"c":"red","x":26,"y":0.027},{"c":"red","x":30,"y":0.02},{"c":"red","x":34,"y":0.013},{"c":"red","x":38,"y":0.008},{"c":"red","x":42,"y":0.005},{"c":"red","x":46,"y":0.003},{"c":"red","x":50,"y":0.002},{"c":"red","x":55,"y":0.0015},{"c":"red","x":60,"y":0.0015},{"c":"red","x":65,"y":0.0012},{"c":"red","x":70,"y":0.0007},{"c":"red","x":73,"y":0}
],
"p4": [
{"c":"d1","x":-16,"y":0},{"c":"d1","x":-10,"y":0.002},{"c":"d1","x":-5,"y":0.009},{"c":"d1","x":0,"y":0.018},{"c":"d1","x":5,"y":0.026},{"c":"d1","x":10,"y":0.031},{"c":"d1","x":14,"y":0.0325},{"c":"d1","x":18,"y":0.03},{"c":"d1","x":22,"y":0.026},{"c":"d1","x":26,"y":0.024},{"c":"d1","x":30,"y":0.023},{"c":"d1","x":34,"y":0.02},{"c":"d1","x":38,"y":0.014},{"c":"d1","x":42,"y":0.008},{"c":"d1","x":46,"y":0.003},{"c":"d1","x":50,"y":0.001},{"c":"d1","x":55,"y":0},
{"c":"d2","x":-14,"y":0},{"c":"d2","x":-10,"y":0.001},{"c":"d2","x":-5,"y":0.006},{"c":"d2","x":0,"y":0.014},{"c":"d2","x":5,"y":0.021},{"c":"d2","x":9,"y":0.024},{"c":"d2","x":13,"y":0.025},{"c":"d2","x":17,"y":0.025},{"c":"d2","x":21,"y":0.028},{"c":"d2","x":25,"y":0.032},{"c":"d2","x":27,"y":0.0325},{"c":"d2","x":30,"y":0.03},{"c":"d2","x":34,"y":0.024},{"c":"d2","x":38,"y":0.016},{"c":"d2","x":42,"y":0.009},{"c":"d2","x":46,"y":0.004},{"c":"d2","x":51,"y":0.001},{"c":"d2","x":56,"y":0},
{"c":"d3","x":-14,"y":0},{"c":"d3","x":-10,"y":0.0012},{"c":"d3","x":-5,"y":0.007},{"c":"d3","x":0,"y":0.015},{"c":"d3","x":5,"y":0.022},{"c":"d3","x":10,"y":0.025},{"c":"d3","x":15,"y":0.027},{"c":"d3","x":19,"y":0.03},{"c":"d3","x":22,"y":0.031},{"c":"d3","x":26,"y":0.029},{"c":"d3","x":30,"y":0.024},{"c":"d3","x":34,"y":0.018},{"c":"d3","x":38,"y":0.013},{"c":"d3","x":42,"y":0.008},{"c":"d3","x":46,"y":0.003},{"c":"d3","x":51,"y":0},
{"c":"d4","x":-15,"y":0},{"c":"d4","x":-10,"y":0.0015},{"c":"d4","x":-5,"y":0.008},{"c":"d4","x":0,"y":0.017},{"c":"d4","x":5,"y":0.024},{"c":"d4","x":10,"y":0.027},{"c":"d4","x":14,"y":0.024},{"c":"d4","x":18,"y":0.02},{"c":"d4","x":22,"y":0.021},{"c":"d4","x":26,"y":0.025},{"c":"d4","x":30,"y":0.028},{"c":"d4","x":33,"y":0.029},{"c":"d4","x":36,"y":0.027},{"c":"d4","x":40,"y":0.019},{"c":"d4","x":44,"y":0.01},{"c":"d4","x":48,"y":0.004},{"c":"d4","x":53,"y":0},
{"c":"d5","x":-14,"y":0},{"c":"d5","x":-10,"y":0.001},{"c":"d5","x":-5,"y":0.006},{"c":"d5","x":0,"y":0.014},{"c":"d5","x":5,"y":0.022},{"c":"d5","x":10,"y":0.024},{"c":"d5","x":14,"y":0.021},{"c":"d5","x":17,"y":0.019},{"c":"d5","x":21,"y":0.02},{"c":"d5","x":25,"y":0.025},{"c":"d5","x":29,"y":0.029},{"c":"d5","x":33,"y":0.027},{"c":"d5","x":37,"y":0.022},{"c":"d5","x":41,"y":0.014},{"c":"d5","x":45,"y":0.007},{"c":"d5","x":49,"y":0.002},{"c":"d5","x":54,"y":0},
{"c":"d6","x":-15,"y":0},{"c":"d6","x":-10,"y":0.0013},{"c":"d6","x":-5,"y":0.007},{"c":"d6","x":0,"y":0.015},{"c":"d6","x":5,"y":0.022},{"c":"d6","x":10,"y":0.026},{"c":"d6","x":15,"y":0.028},{"c":"d6","x":19,"y":0.03},{"c":"d6","x":23,"y":0.031},{"c":"d6","x":27,"y":0.03},{"c":"d6","x":31,"y":0.026},{"c":"d6","x":35,"y":0.02},{"c":"d6","x":39,"y":0.013},{"c":"d6","x":43,"y":0.007},{"c":"d6","x":47,"y":0.002},{"c":"d6","x":52,"y":0},
{"c":"d7","x":-16,"y":0},{"c":"d7","x":-10,"y":0.002},{"c":"d7","x":-5,"y":0.009},{"c":"d7","x":0,"y":0.018},{"c":"d7","x":5,"y":0.024},{"c":"d7","x":10,"y":0.026},{"c":"d7","x":14,"y":0.025},{"c":"d7","x":18,"y":0.023},{"c":"d7","x":22,"y":0.024},{"c":"d7","x":26,"y":0.026},{"c":"d7","x":30,"y":0.025},{"c":"d7","x":34,"y":0.02},{"c":"d7","x":38,"y":0.015},{"c":"d7","x":42,"y":0.009},{"c":"d7","x":46,"y":0.004},{"c":"d7","x":51,"y":0},
{"c":"d8","x":-13,"y":0},{"c":"d8","x":-10,"y":0.0008},{"c":"d8","x":-5,"y":0.005},{"c":"d8","x":0,"y":0.012},{"c":"d8","x":5,"y":0.02},{"c":"d8","x":10,"y":0.024},{"c":"d8","x":14,"y":0.025},{"c":"d8","x":18,"y":0.026},{"c":"d8","x":22,"y":0.027},{"c":"d8","x":26,"y":0.029},{"c":"d8","x":30,"y":0.028},{"c":"d8","x":34,"y":0.025},{"c":"d8","x":38,"y":0.019},{"c":"d8","x":42,"y":0.012},{"c":"d8","x":46,"y":0.005},{"c":"d8","x":50,"y":0.002},{"c":"d8","x":55,"y":0},
{"c":"d9","x":-15,"y":0},{"c":"d9","x":-10,"y":0.0015},{"c":"d9","x":-5,"y":0.008},{"c":"d9","x":0,"y":0.016},{"c":"d9","x":5,"y":0.023},{"c":"d9","x":10,"y":0.025},{"c":"d9","x":14,"y":0.024},{"c":"d9","x":18,"y":0.026},{"c":"d9","x":22,"y":0.029},{"c":"d9","x":26,"y":0.03},{"c":"d9","x":30,"y":0.026},{"c":"d9","x":34,"y":0.02},{"c":"d9","x":37,"y":0.016},{"c":"d9","x":40,"y":0.013},{"c":"d9","x":44,"y":0.007},{"c":"d9","x":48,"y":0.002},{"c":"d9","x":52,"y":0},
{"c":"d10","x":-14,"y":0},{"c":"d10","x":-10,"y":0.001},{"c":"d10","x":-5,"y":0.006},{"c":"d10","x":0,"y":0.014},{"c":"d10","x":5,"y":0.021},{"c":"d10","x":10,"y":0.023},{"c":"d10","x":14,"y":0.023},{"c":"d10","x":18,"y":0.025},{"c":"d10","x":22,"y":0.027},{"c":"d10","x":26,"y":0.026},{"c":"d10","x":30,"y":0.027},{"c":"d10","x":34,"y":0.029},{"c":"d10","x":37,"y":0.027},{"c":"d10","x":40,"y":0.021},{"c":"d10","x":44,"y":0.012},{"c":"d10","x":48,"y":0.005},{"c":"d10","x":53,"y":0},
{"c":"d11","x":-15,"y":0},{"c":"d11","x":-10,"y":0.0015},{"c":"d11","x":-5,"y":0.008},{"c":"d11","x":0,"y":0.017},{"c":"d11","x":5,"y":0.024},{"c":"d11","x":9,"y":0.026},{"c":"d11","x":12,"y":0.027},{"c":"d11","x":16,"y":0.024},{"c":"d11","x":20,"y":0.02},{"c":"d11","x":24,"y":0.024},{"c":"d11","x":28,"y":0.029},{"c":"d11","x":32,"y":0.028},{"c":"d11","x":36,"y":0.023},{"c":"d11","x":40,"y":0.016},{"c":"d11","x":44,"y":0.008},{"c":"d11","x":48,"y":0.003},{"c":"d11","x":53,"y":0},
{"c":"d12","x":-15,"y":0},{"c":"d12","x":-10,"y":0.0014},{"c":"d12","x":-5,"y":0.0075},{"c":"d12","x":0,"y":0.016},{"c":"d12","x":5,"y":0.023},{"c":"d12","x":10,"y":0.026},{"c":"d12","x":14,"y":0.027},{"c":"d12","x":18,"y":0.03},{"c":"d12","x":21,"y":0.031},{"c":"d12","x":25,"y":0.029},{"c":"d12","x":29,"y":0.026},{"c":"d12","x":33,"y":0.023},{"c":"d12","x":37,"y":0.018},{"c":"d12","x":41,"y":0.011},{"c":"d12","x":45,"y":0.005},{"c":"d12","x":49,"y":0.0015},{"c":"d12","x":54,"y":0},
{"c":"d13","x":-13,"y":0},{"c":"d13","x":-10,"y":0.0009},{"c":"d13","x":-5,"y":0.0055},{"c":"d13","x":0,"y":0.013},{"c":"d13","x":5,"y":0.02},{"c":"d13","x":10,"y":0.022},{"c":"d13","x":14,"y":0.022},{"c":"d13","x":18,"y":0.023},{"c":"d13","x":22,"y":0.025},{"c":"d13","x":26,"y":0.027},{"c":"d13","x":30,"y":0.028},{"c":"d13","x":34,"y":0.029},{"c":"d13","x":37,"y":0.027},{"c":"d13","x":40,"y":0.022},{"c":"d13","x":44,"y":0.012},{"c":"d13","x":48,"y":0.005},{"c":"d13","x":52,"y":0.0015},{"c":"d13","x":56,"y":0},
{"c":"red","x":-14,"y":0},{"c":"red","x":-10,"y":0.0008},{"c":"red","x":-5,"y":0.004},{"c":"red","x":-2,"y":0.0073},{"c":"red","x":0,"y":0.01},{"c":"red","x":4,"y":0.016},{"c":"red","x":8,"y":0.019},{"c":"red","x":12,"y":0.02},{"c":"red","x":16,"y":0.021},{"c":"red","x":20,"y":0.023},{"c":"red","x":24,"y":0.026},{"c":"red","x":28,"y":0.027},{"c":"red","x":32,"y":0.026},{"c":"red","x":36,"y":0.0245},{"c":"red","x":40,"y":0.021},{"c":"red","x":43,"y":0.017},{"c":"red","x":47,"y":0.0105},{"c":"red","x":51,"y":0.0045},{"c":"red","x":55,"y":0.0012},{"c":"red","x":60,"y":0}
]
},
"concat": [
 {
  "width": 292, "height": 190,
  "data": {"name": "p1"},
  "encoding": {
   "x": {"field": "x", "type": "quantitative", "title": "max_distance", "scale": {"domain": [-906, 2946], "nice": false, "zero": false}, "axis": {"values": [0, 1000, 2000], "format": "d"}},
   "y": {"field": "y", "type": "quantitative", "title": "Density", "scale": {"domain": [0, 0.0022], "nice": false}, "axis": {"values": [0, 0.001, 0.002], "format": ".3f"}},
   "detail": {"field": "c"}
  },
  "layer": [
   {"transform": [{"filter": "datum.c == 'red'"}], "mark": {"type": "line", "color": "#e31a1c", "strokeWidth": 2.2}},
   {"transform": [{"filter": "datum.c != 'red'"}], "mark": {"type": "line", "color": "black"}}
  ]
 },
 {
  "width": 282, "height": 190,
  "data": {"name": "p2"},
  "encoding": {
   "x": {"field": "x", "type": "quantitative", "title": "mean_distance_pd", "scale": {"domain": [-43.2, 152], "nice": false, "zero": false}, "axis": {"values": [0, 100], "format": "d"}},
   "y": {"field": "y", "type": "quantitative", "title": "Density", "scale": {"domain": [0, 0.0507], "nice": false}, "axis": {"values": [0, 0.02, 0.04], "format": ".2f"}},
   "detail": {"field": "c"}
  },
  "layer": [
   {"transform": [{"filter": "datum.c == 'red'"}], "mark": {"type": "line", "color": "#e31a1c", "strokeWidth": 2.2}},
   {"transform": [{"filter": "datum.c != 'red'"}], "mark": {"type": "line", "color": "black"}}
  ]
 },
 {
  "width": 292, "height": 190,
  "data": {"name": "p3"},
  "encoding": {
   "x": {"field": "x", "type": "quantitative", "title": "movements_pd", "scale": {"domain": [-17.8, 77.2], "nice": false, "zero": false}, "axis": {"values": [0, 25, 50, 75], "format": "d"}},
   "y": {"field": "y", "type": "quantitative", "title": "Density", "scale": {"domain": [0, 0.0513], "nice": false}, "axis": {"values": [0, 0.02, 0.04], "format": ".2f"}},
   "detail": {"field": "c"}
  },
  "layer": [
   {"transform": [{"filter": "datum.c == 'red'"}], "mark": {"type": "line", "color": "#e31a1c", "strokeWidth": 2.2}},
   {"transform": [{"filter": "datum.c != 'red'"}], "mark": {"type": "line", "color": "black"}}
  ]
 },
 {
  "width": 282, "height": 190,
  "data": {"name": "p4"},
  "encoding": {
   "x": {"field": "x", "type": "quantitative", "title": "unique_loc_pd", "scale": {"domain": [-19.2, 64.7], "nice": false, "zero": false}, "axis": {"values": [0, 25, 50], "format": "d"}},
   "y": {"field": "y", "type": "quantitative", "title": "Density", "scale": {"domain": [0, 0.0347], "nice": false}, "axis": {"values": [0, 0.01, 0.02, 0.03], "format": ".2f"}},
   "detail": {"field": "c"}
  },
  "layer": [
   {"transform": [{"filter": "datum.c == 'red'"}], "mark": {"type": "line", "color": "#e31a1c", "strokeWidth": 2.2}},
   {"transform": [{"filter": "datum.c != 'red'"}], "mark": {"type": "line", "color": "black"}}
  ]
 }
],
"columns": 2,
"spacing": {"row": 76, "column": 118},
"bounds": "flush"
}
